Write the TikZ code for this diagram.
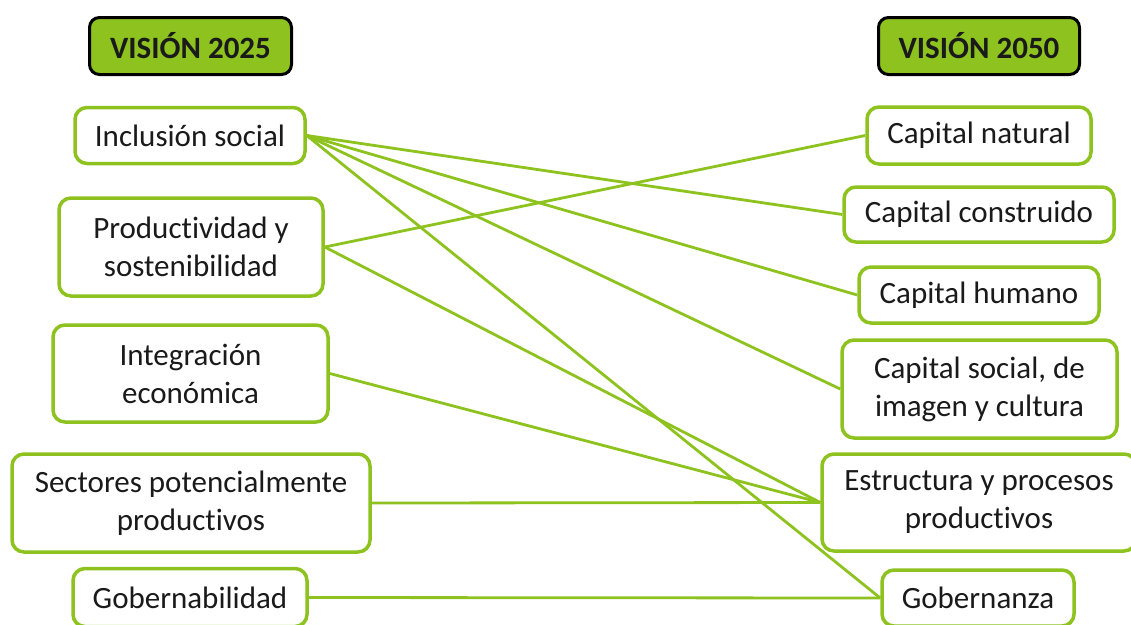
\documentclass[tikz,border=0pt]{standalone}
\usepackage{fontspec}
\setmainfont{Carlito}[Ligatures=NoCommon]
\definecolor{lgreen}{HTML}{8DC21F}
\definecolor{txt}{HTML}{1A1A1A}
\begin{document}
\begin{tikzpicture}[x=1pt,y=-1pt,
  box/.style={draw=lgreen, line width=3.5pt, rounded corners=12pt, fill=white, align=center,
    text=txt, font=\fontsize{31}{38}\selectfont, inner sep=0pt},
  head/.style={draw=black, line width=3pt, rounded corners=10pt, fill=lgreen, text=txt,
    font=\bfseries\fontsize{31}{36}\selectfont, inner sep=0pt, minimum height=57pt},
  link/.style={draw=lgreen, line width=2.8pt}]
\useasboundingbox (0,0) rectangle (1131,624);
% headers
\node[head, minimum width=202pt] (h25) at (190.5,46) {VISIÓN 2025};
\node[head, minimum width=201pt] (h50) at (979,46) {VISIÓN 2050};
% left column
\node[box, minimum width=230pt, minimum height=56pt] (incl) at (190,135.5) {Inclusión social};
\node[box, minimum width=264pt, minimum height=98pt] (prod) at (191,247) {Productividad y\\sostenibilidad};
\node[box, minimum width=275pt, minimum height=97pt] (integ) at (190.5,373.5) {Integración\\económica};
\node[box, minimum width=358pt, minimum height=98pt] (sect) at (191,503) {Sectores potencialmente\\productivos};
\node[box, minimum width=234pt, minimum height=58pt] (gobl) at (190,597.5) {Gobernabilidad};
% right column
\node[box, minimum width=224pt, minimum height=57pt] (cnat) at (979,135.5) {Capital natural};
\node[box, minimum width=270pt, minimum height=55pt] (ccon) at (979,214.5) {Capital construido};
\node[box, minimum width=240pt, minimum height=56pt] (chum) at (979,295) {Capital humano};
\node[box, minimum width=275pt, minimum height=98pt] (csoc) at (979.5,389) {Capital social, de\\imagen y cultura};
\node[box, minimum width=314pt, minimum height=97pt] (estr) at (979,502.5) {Estructura y procesos\\productivos};
\node[box, minimum width=192pt, minimum height=56pt] (gobz) at (978,598) {Gobernanza};
% connectors
\draw[link] (incl.east) -- (ccon.west);
\draw[link] (incl.east) -- (chum.west);
\draw[link] (incl.east) -- (csoc.west);
\draw[link] (incl.east) -- (gobz.west);
\draw[link] (prod.east) -- (cnat.west);
\draw[link] (prod.east) -- (estr.west);
\draw[link] (integ.east) -- (estr.west);
\draw[link] (sect.east) -- (estr.west);
\draw[link] (gobl.east) -- (gobz.west);
\end{tikzpicture}
\end{document}
